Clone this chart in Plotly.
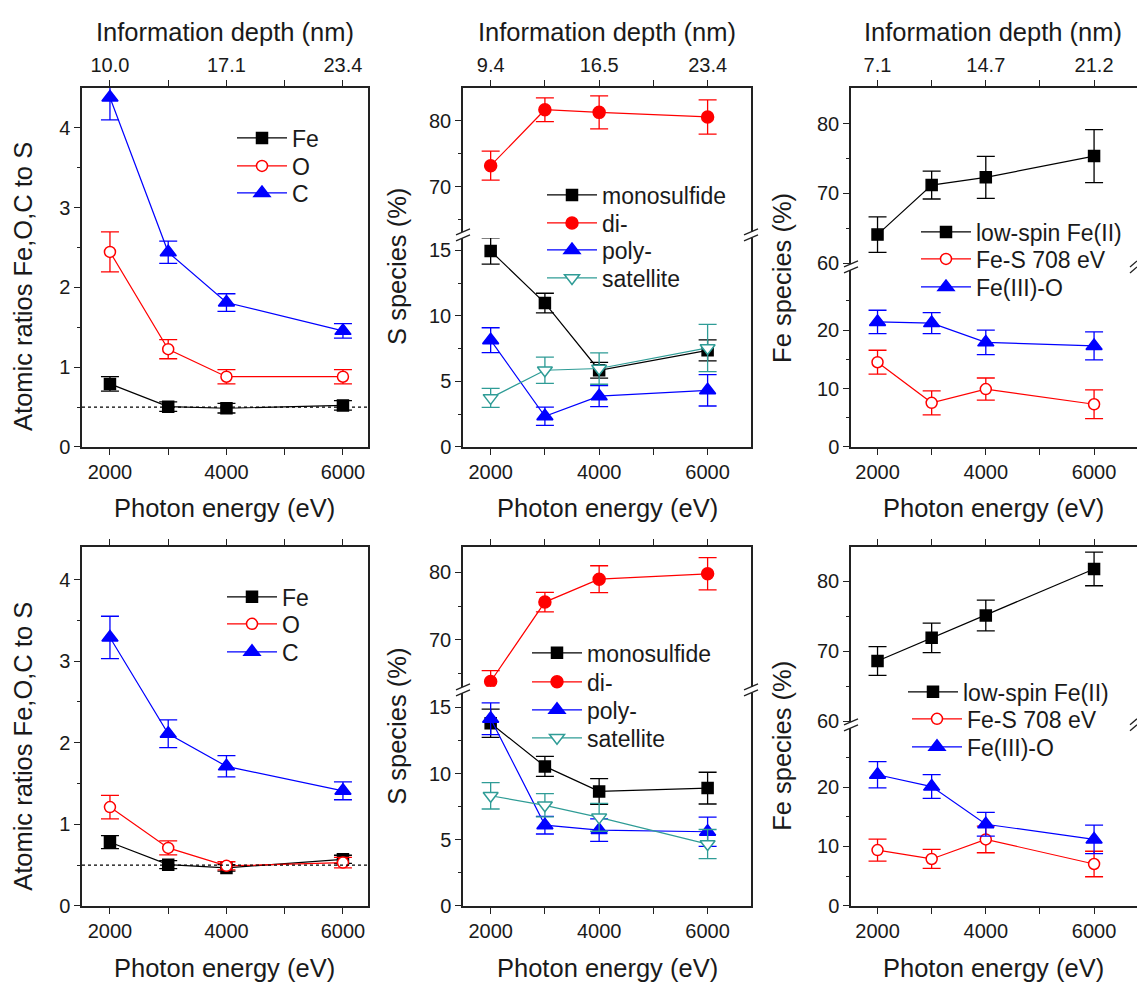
import plotly.graph_objects as go

# ---------------- data ----------------
energy_eV = [2000, 3000, 4000, 6000]
energy_ticks = [2000, 3000, 4000, 5000, 6000]
energy_ticktext = ["2000", "", "4000", "", "6000"]

depth_labels_left = ["10.0", "", "17.1", "", "23.4"]
depth_labels_mid = ["9.4", "", "16.5", "", "23.4"]
depth_labels_right = ["7.1", "", "14.7", "", "21.2"]

stoich_ref = 0.5

# Row 1 - atomic ratios to S
fe_ratio_1 = [0.79, 0.505, 0.485, 0.52]
fe_ratio_1_err = [0.09, 0.06, 0.06, 0.06]
o_ratio_1 = [2.445, 1.225, 0.88, 0.88]
o_ratio_1_err = [0.25, 0.12, 0.09, 0.09]
c_ratio_1 = [4.38, 2.44, 1.81, 1.455]
c_ratio_1_err = [0.28, 0.14, 0.11, 0.09]

# Row 1 - S species (%)
mono_1 = [14.95, 10.97, 5.85, 7.37]
mono_1_err = [1.0, 0.75, 0.6, 0.8]
di_1 = [73.2, 81.7, 81.3, 80.6]
di_1_err = [2.2, 1.8, 2.5, 2.6]
poly_1 = [8.14, 2.34, 3.87, 4.32]
poly_1_err = [0.95, 0.7, 0.8, 1.2]
sat_1 = [3.74, 5.85, 5.98, 7.55]
sat_1_err = [0.72, 1.0, 1.2, 1.8]

# Row 1 - Fe species (%)
ls_1 = [64.1, 71.2, 72.3, 75.35]
ls_1_err = [2.55, 2.0, 3.0, 3.8]
fes_1 = [14.5, 7.55, 9.9, 7.3]
fes_1_err = [2.05, 2.05, 1.9, 2.45]
fe3_1 = [21.4, 21.2, 17.9, 17.3]
fe3_1_err = [2.0, 1.8, 2.1, 2.4]

# Row 2 - atomic ratios to S
fe_ratio_2 = [0.78, 0.505, 0.465, 0.57]
fe_ratio_2_err = [0.08, 0.05, 0.04, 0.05]
o_ratio_2 = [1.21, 0.71, 0.49, 0.53]
o_ratio_2_err = [0.145, 0.085, 0.05, 0.065]
c_ratio_2 = [3.29, 2.11, 1.71, 1.41]
c_ratio_2_err = [0.26, 0.17, 0.13, 0.11]

# Row 2 - S species (%)
mono_2 = [13.8, 10.54, 8.65, 8.9]
mono_2_err = [1.07, 0.76, 0.97, 1.2]
di_2 = [63.8, 75.6, 79.0, 79.8]
di_2_err = [1.6, 1.45, 2.0, 2.4]
poly_2 = [14.15, 6.1, 5.73, 5.6]
poly_2_err = [1.2, 0.67, 0.85, 1.1]
sat_2 = [8.32, 7.6, 6.69, 4.67]
sat_2_err = [1.0, 0.88, 1.05, 1.1]

# Row 2 - Fe species (%)
ls_2 = [68.6, 71.9, 75.1, 81.75]
ls_2_err = [2.05, 2.1, 2.2, 2.4]
fes_2 = [9.4, 7.9, 11.2, 7.05]
fes_2_err = [1.85, 1.6, 2.25, 2.15]
fe3_2 = [22.1, 20.1, 13.75, 11.2]
fe3_2_err = [2.2, 2.0, 2.0, 2.4]

# ---------------- styling / geometry ----------------
W, H = 1137, 983
SY = 0.989   # vertical compensation of the page capture

FONT = "Liberation Sans, Arial, Helvetica, sans-serif"
TXT = "#1a1a1a"
LINE = "#222222"
BLACK, RED, BLUE, TEAL = "#000000", "#ff0000", "#0000ff", "#2f9c96"

COLS = [(82, 368), (463, 751), (851, 1137)]
XRANGES = [[1520, 6430], [1490, 6800], [1510, 6793]]
GAP = 3


def px_x(px):
    return min(1.0, max(0.0, px / W))


def px_y(py):
    return min(1.0, max(0.0, 1 - (py / SY) / H))


def aname(prefix, n):
    return prefix if n == 1 else f"{prefix}{n}"


# y-axis specs per panel: (range, major tickvals, minor tickvals, top px, bottom px)
Y_SPECS = {
    (0, 0): [([0, 4.5], [0, 1, 2, 3, 4], [0.5, 1.5, 2.5, 3.5], 88, 447)],
    (0, 1): [([0, 15.94], [0, 5, 10, 15], [2.5, 7.5, 12.5], 235 + GAP, 447),
             ([63.14, 85], [70, 80], [65, 75], 88, 235 - GAP)],
    (0, 2): [([0, 30.3], [0, 10, 20], [5, 15, 25], 267 + GAP, 447),
             ([59.9, 85.1], [60, 70, 80], [65, 75], 88, 267 - GAP)],
    (1, 0): [([0, 4.4], [0, 1, 2, 3, 4], [0.5, 1.5, 2.5, 3.5], 547, 906)],
    (1, 1): [([0, 16.1], [0, 5, 10, 15], [2.5, 7.5, 12.5], 690 + GAP, 906),
             ([63.0, 83.8], [70, 80], [65, 75], 547, 690 - GAP)],
    (1, 2): [([0, 30.0], [0, 10, 20], [5, 15, 25], 725 + GAP, 906),
             ([59.9, 84.9], [60, 70, 80], [65, 75], 547, 725 - GAP)],
}
TOP_LABELS = {0: depth_labels_left, 1: depth_labels_mid, 2: depth_labels_right}

tickfont = dict(family=FONT, size=20, color=TXT)
base_ax = dict(showline=True, linecolor=LINE, linewidth=1.5, ticks="outside", ticklen=6,
               tickwidth=1.3, tickcolor=LINE, showgrid=False, zeroline=False, tickfont=tickfont)

fig = go.Figure()
layout = dict(width=W, height=H, margin=dict(l=0, r=0, t=0, b=0),
              paper_bgcolor="white", plot_bgcolor="white", showlegend=True)
axes_ref = {}
shapes = []
ycount = 0
for r in range(2):
    for c in range(3):
        p = r * 3 + c
        xid = p + 1
        dom_x = [px_x(COLS[c][0]), px_x(COLS[c][1])]
        specs = Y_SPECS[(r, c)]
        yids = []
        for i, (yr, tv, mtv, tpx, bpx) in enumerate(specs):
            ycount += 1
            yids.append(ycount)
            yax = dict(base_ax, domain=[px_y(bpx), px_y(tpx)], range=yr,
                       tickmode="array", tickvals=tv,
                       anchor=aname("x", xid), mirror=(c != 2),
                       minor=dict(tickmode="array", tickvals=mtv, ticks="outside", ticklen=3,
                                  tickwidth=1.2, tickcolor=LINE))
            layout[aname("yaxis", ycount)] = yax
        layout[aname("xaxis", xid)] = dict(base_ax, domain=dom_x, range=XRANGES[c],
                                           anchor=aname("y", yids[0]),
                                           tickmode="array", tickvals=energy_ticks,
                                           ticktext=energy_ticktext)
        top = dict(base_ax, overlaying=aname("x", xid), side="top", anchor=aname("y", yids[-1]),
                   range=XRANGES[c], tickmode="array", tickvals=energy_ticks,
                   ticktext=TOP_LABELS[c], showticklabels=(r == 0))
        layout[aname("xaxis", xid + 6)] = top
        axes_ref[(r, c)] = (aname("x", xid), [aname("y", k) for k in yids], aname("x", xid + 6))

        # break marks on broken axes
        if len(specs) == 2:
            yb = specs[0][3] - GAP
            for xe in COLS[c]:
                for yc in (yb - GAP, yb + GAP):
                    shapes.append(dict(type="line", xref="paper", yref="paper",
                                       x0=px_x(xe - 7), y0=px_y(yc + 3), x1=px_x(xe + 7), y1=px_y(yc - 3),
                                       line=dict(color=LINE, width=1.3)))

# one small legend per entry: (text left px, item centre px)
LEGEND_ITEMS = []
legend_count = [0]


def add(name, y, err, color, symbol, size, rc, leg_xy, upper=False, open_marker=False):
    xa, yas, xtop = axes_ref[rc]
    ya = yas[-1] if upper else yas[0]
    legend_count[0] += 1
    key = aname("legend", legend_count[0])
    LEGEND_ITEMS.append((key, leg_xy))
    fig.add_trace(go.Scatter(
        x=energy_eV, y=y, name=name, mode="lines+markers",
        line=dict(color=color, width=1.2),
        marker=dict(symbol=symbol, size=size, color="white" if open_marker else color,
                    line=dict(color=color, width=1.5)),
        error_y=dict(type="data", array=err, visible=True, color=color, thickness=1.3, width=9),
        xaxis=xa, yaxis=ya, legend=key))


def anchor_top(rc, y):
    # invisible companion so that the top (information depth) axis gets drawn
    xa, yas, xtop = axes_ref[rc]
    fig.add_trace(go.Scatter(x=energy_eV, y=y, xaxis=xtop, yaxis=yas[-1], mode="markers",
                             marker=dict(opacity=0), showlegend=False, hoverinfo="skip"))


# Row 1
add("Fe", fe_ratio_1, fe_ratio_1_err, BLACK, "square", 11, (0, 0), (292, 138))
add("O", o_ratio_1, o_ratio_1_err, RED, "circle", 11, (0, 0), (292, 166), open_marker=True)
add("C", c_ratio_1, c_ratio_1_err, BLUE, "triangle-up", 14, (0, 0), (292, 193))

add("monosulfide", mono_1, mono_1_err, BLACK, "square", 11, (0, 1), (602, 195))
add("di-", di_1, di_1_err, RED, "circle", 12, (0, 1), (602, 223), upper=True)
add("poly-", poly_1, poly_1_err, BLUE, "triangle-up", 14, (0, 1), (602, 250))
add("satellite", sat_1, sat_1_err, TEAL, "triangle-down", 13, (0, 1), (602, 278), open_marker=True)

add("low-spin Fe(II)", ls_1, ls_1_err, BLACK, "square", 11, (0, 2), (976, 232), upper=True)
add("Fe-S 708 eV", fes_1, fes_1_err, RED, "circle", 11, (0, 2), (976, 259), open_marker=True)
add("Fe(III)-O", fe3_1, fe3_1_err, BLUE, "triangle-up", 14, (0, 2), (976, 287))

# Row 2
add("Fe", fe_ratio_2, fe_ratio_2_err, BLACK, "square", 11, (1, 0), (282, 597))
add("O", o_ratio_2, o_ratio_2_err, RED, "circle", 11, (1, 0), (282, 624), open_marker=True)
add("C", c_ratio_2, c_ratio_2_err, BLUE, "triangle-up", 14, (1, 0), (282, 652))

add("monosulfide", mono_2, mono_2_err, BLACK, "square", 11, (1, 1), (587, 653))
add("di-", di_2, di_2_err, RED, "circle", 12, (1, 1), (587, 682), upper=True)
add("poly-", poly_2, poly_2_err, BLUE, "triangle-up", 14, (1, 1), (587, 710))
add("satellite", sat_2, sat_2_err, TEAL, "triangle-down", 13, (1, 1), (587, 738), open_marker=True)

add("low-spin Fe(II)", ls_2, ls_2_err, BLACK, "square", 11, (1, 2), (963, 692), upper=True)
add("Fe-S 708 eV", fes_2, fes_2_err, RED, "circle", 11, (1, 2), (967, 719), open_marker=True)
add("Fe(III)-O", fe3_2, fe3_2_err, BLUE, "triangle-up", 14, (1, 2), (967, 747))

anchor_top((0, 0), c_ratio_1)
anchor_top((0, 1), di_1)
anchor_top((0, 2), ls_1)
anchor_top((1, 0), c_ratio_2)
anchor_top((1, 1), di_2)
anchor_top((1, 2), ls_2)

# dotted stoichiometry reference in the ratio panels
for rc in [(0, 0), (1, 0)]:
    xa, yas, _ = axes_ref[rc]
    shapes.append(dict(type="line", xref=f"{xa} domain", yref=yas[0], x0=0, x1=1,
                       y0=stoich_ref, y1=stoich_ref, line=dict(color=BLACK, width=1.3, dash="dot")))

# legends
TEXT_INSET = 60   # itemwidth + 2 * item gap
for key, (tx, cy) in LEGEND_ITEMS:
    layout[key] = dict(x=px_x(tx - TEXT_INSET), y=px_y(cy), xanchor="left", yanchor="middle",
                       bgcolor="rgba(0,0,0,0)", borderwidth=0, itemwidth=50,
                       font=dict(family=FONT, size=23, color=TXT))

# titles
ann = []
title_font = dict(family=FONT, size=25.5, color=TXT)
for c in range(3):
    cx = px_x((COLS[c][0] + COLS[c][1]) / 2) if c < 2 else px_x(993)
    ann.append(dict(text="Information depth (nm)", x=cx, y=px_y(32), xref="paper", yref="paper",
                    showarrow=False, font=title_font, xanchor="center", yanchor="middle"))
    for ty in (508, 968):
        ann.append(dict(text="Photon energy (eV)", x=cx, y=px_y(ty), xref="paper", yref="paper",
                        showarrow=False, font=title_font, xanchor="center", yanchor="middle"))
YT = [("Atomic ratios Fe,O,C to S", 23, 287, 747), ("S species (%)", 397, 267, 727),
      ("Fe species (%)", 782, 278, 746)]
for text, x, y1, y2 in YT:
    for yy in (y1, y2):
        ann.append(dict(text=text, x=px_x(x), y=px_y(yy), xref="paper", yref="paper", textangle=-90,
                        showarrow=False, font=dict(family=FONT, size=25.5, color=TXT),
                        xanchor="center", yanchor="middle"))

layout["annotations"] = ann
layout["shapes"] = shapes
fig.update_layout(**layout)
fig.write_html("out.html", config={"displayModeBar": False},
               post_script="document.body.style.margin='0px';document.body.style.overflow='hidden';")
